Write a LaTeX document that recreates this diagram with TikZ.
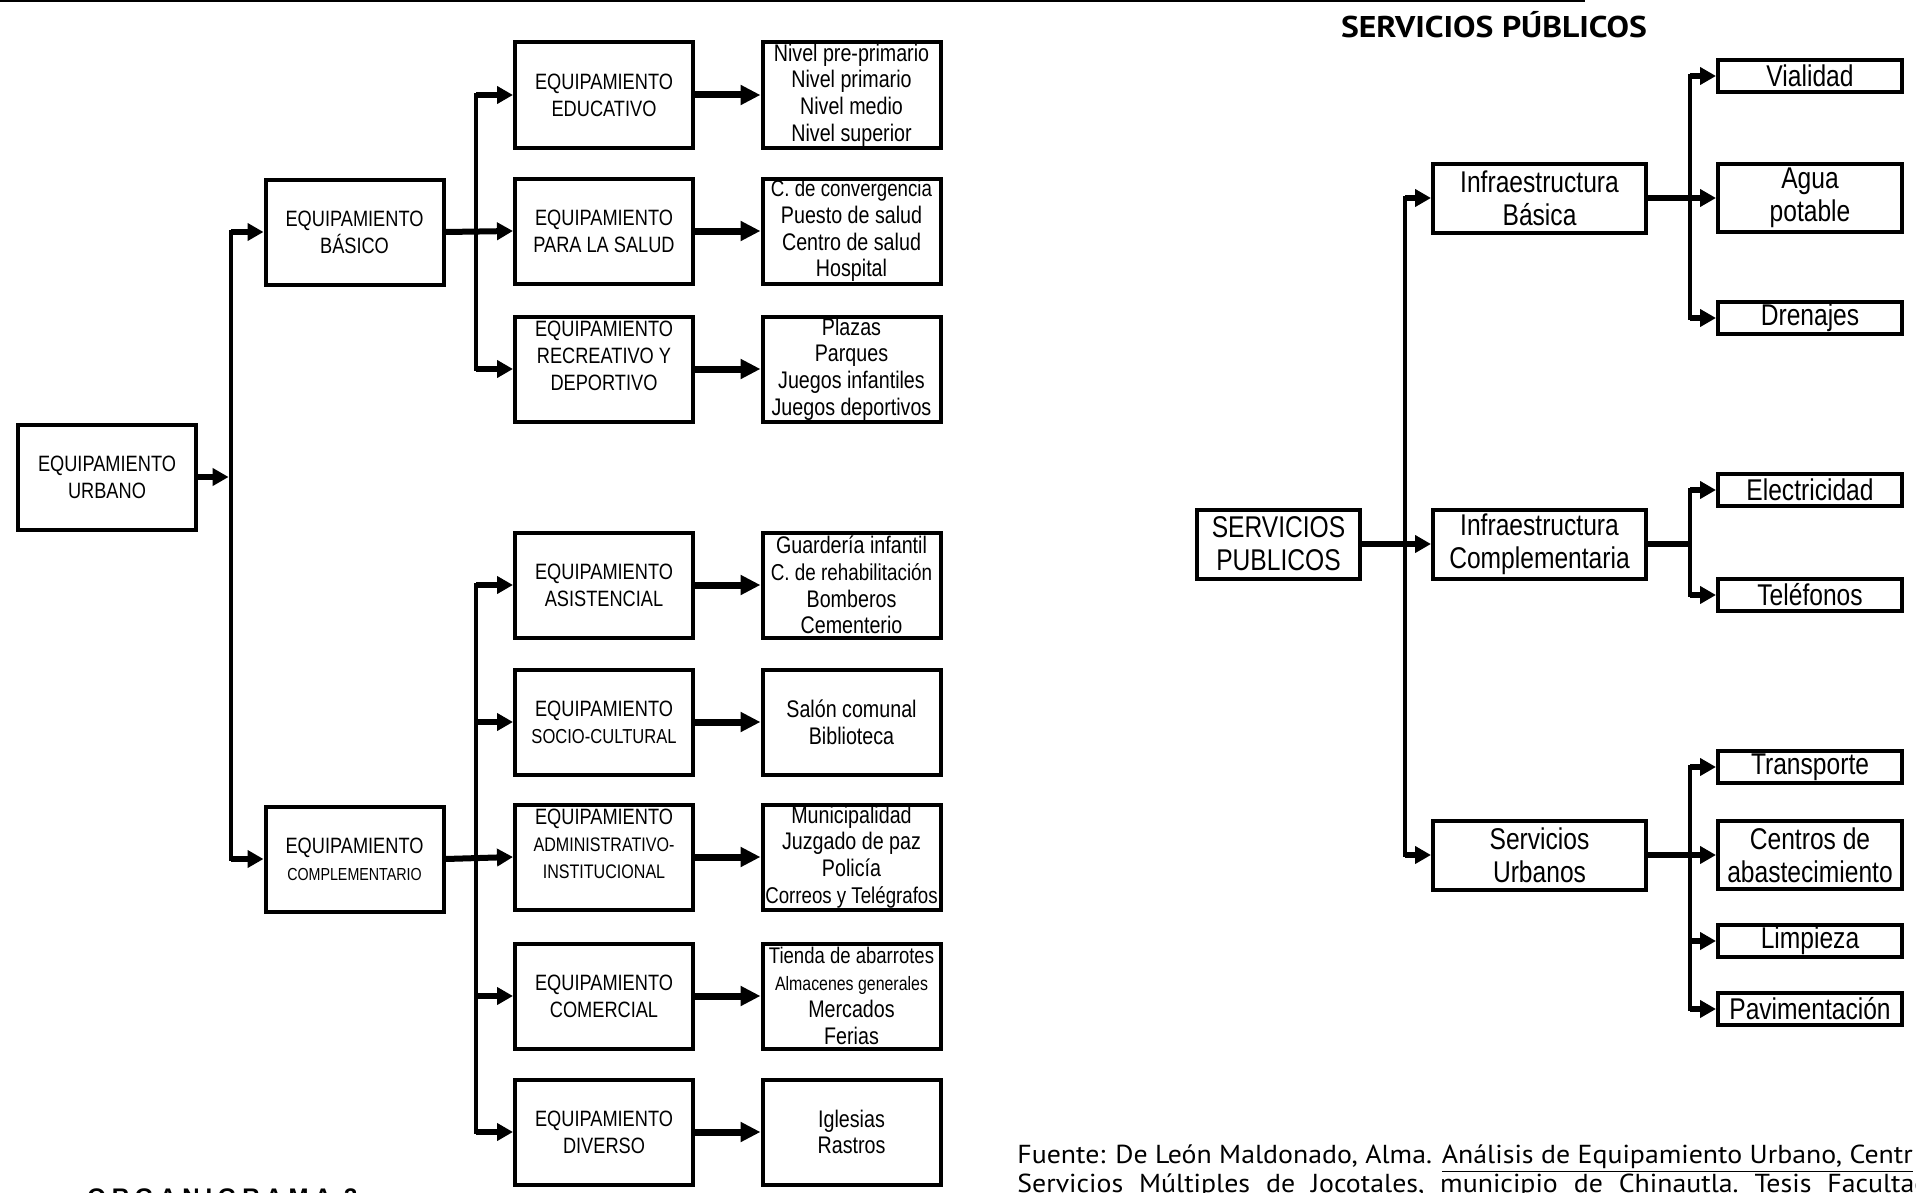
\documentclass[tikz,border=0pt]{standalone}
\usepackage{fontspec}
\usetikzlibrary{arrows.meta}
\setmainfont{Liberation Sans}
\newfontfamily\cajafont[FakeStretch=0.82]{Liberation Sans}
\newfontfamily\titfont[FakeStretch=1.12]{PT Sans}
\newfontfamily\fuentefont[FakeStretch=1.07]{PT Sans}
\newcommand\tam[1]{\fontsize{#1}{13.4pt}\selectfont}

\begin{document}
\begin{tikzpicture}[x=0.5pt, y=-0.5pt,
  caja/.style={draw, line width=2pt, inner sep=0pt, align=center,
    minimum width=89pt, minimum height=52.5pt, font=\cajafont\tam{11.1}},
  lista/.style={caja, font=\cajafont\tam{12}},
  cajad/.style={draw, line width=2pt, inner sep=0pt, align=center,
    minimum width=106.5pt, minimum height=34.5pt,
    font=\cajafont\fontsize{15}{16.5}\selectfont},
  serv/.style={cajad, minimum width=92pt, minimum height=16pt},
  tronco/.style={line width=2.4pt, line cap=rect},
  linea/.style={line width=3.4pt},
  flecha/.style={line width=3pt, -{Triangle[length=8pt,width=8.5pt]}},
  flechagrande/.style={line width=3.5pt, -{Triangle[length=10pt,width=9.5pt]}}]
  \useasboundingbox (0,0) rectangle (1916,1193);
  \draw[line width=1pt] (0,1) -- (1585,1);

  % troncos
  \coordinate (tA) at (231,0);
  \coordinate (tB) at (476,0);
  \coordinate (tR) at (1405,0);
  \coordinate (tS) at (1690,0);

  % equipamiento urbano
  \node[caja] (urbano) at (107,477) {EQUIPAMIENTO\\URBANO};
  \node[caja] (basico) at (354.5,232) {EQUIPAMIENTO\\BÁSICO};
  \node[caja] (compl) at (354.5,859) {EQUIPAMIENTO\\{\tam{8.7}COMPLEMENTARIO}};

  \node[caja] (educ) at (604,95) {EQUIPAMIENTO\\EDUCATIVO};
  \node[caja] (salud) at (604,231) {EQUIPAMIENTO\\PARA LA SALUD};
  \node[caja] (recr) at (604,369) {EQUIPAMIENTO\\RECREATIVO Y\\DEPORTIVO\\\phantom{X}};
  \node[caja] (asis) at (604,585) {EQUIPAMIENTO\\ASISTENCIAL};
  \node[caja] (socio) at (604,722) {EQUIPAMIENTO\\{\tam{10.1}SOCIO-CULTURAL}};
  \node[caja] (admin) at (604,857) {EQUIPAMIENTO\\{\tam{9.8}ADMINISTRATIVO-}\\{\tam{9.8}INSTITUCIONAL}\\\phantom{X}};
  \node[caja] (comer) at (604,996) {EQUIPAMIENTO\\COMERCIAL};
  \node[caja] (divers) at (604,1132) {EQUIPAMIENTO\\DIVERSO};

  \node[lista] (l-educ) at (851.5,95) {Nivel pre-primario\\Nivel primario\\Nivel medio\\Nivel superior};
  \node[lista] (l-salud) at (851.5,231) {{\tam{11.4}C. de convergencia}\\Puesto de salud\\Centro de salud\\Hospital};
  \node[lista] (l-recr) at (851.5,369) {Plazas\\Parques\\Juegos infantiles\\Juegos deportivos};
  \node[lista] (l-asis) at (851.5,585) {Guardería infantil\\{\tam{11.5}C. de rehabilitación}\\Bomberos\\Cementerio};
  \node[lista] (l-socio) at (851.5,722) {Salón comunal\\Biblioteca};
  \node[lista] (l-admin) at (851.5,857) {Municipalidad\\Juzgado de paz\\Policía\\{\tam{11.4}Correos y Telégrafos}};
  \node[lista] (l-comer) at (851.5,996) {{\tam{11.3}Tienda de abarrotes}\\{\tam{9.7}Almacenes generales}\\Mercados\\Ferias};
  \node[lista] (l-divers) at (851.5,1132) {Iglesias\\Rastros};

  \draw[tronco] (tA |- basico.west) -- (tA |- compl.west);
  \draw[flecha, shorten >=1.2pt] (urbano.east) -- (tA |- urbano.east);
  \draw[flecha] (tA |- basico.west) -- (basico.west);
  \draw[flecha] (tA |- compl.west) -- (compl.west);

  \draw[tronco] (tB |- educ.west) -- (tB |- recr.west);
  \draw[tronco] (tB |- asis.west) -- (tB |- divers.west);
  \draw[flecha] (basico.east) -- (salud.west);
  \draw[flecha] (compl.east) -- (admin.west);
  \foreach \n in {educ,recr,asis,socio,comer,divers}
    \draw[flecha] (tB |- \n.west) -- (\n.west);
  \foreach \n in {educ,salud,recr,asis,socio,admin,comer,divers}
    \draw[flechagrande] (\n.east) -- (l-\n.west);

  % servicios publicos
  \node[font=\titfont\bfseries\fontsize{15}{17}\selectfont] (titulo) at (1494,25) {SERVICIOS PÚBLICOS};
  \node[cajad, minimum width=81.5pt] (sp) at (1278.5,544) {SERVICIOS\\PUBLICOS};
  \node[cajad] (infb) at (1539.5,198) {Infraestructura\\Básica};
  \node[cajad] (infc) at (1539.5,544) {Infraestructura\\Complementaria};
  \node[cajad] (surb) at (1539.5,855) {Servicios\\Urbanos};

  \node[serv] (vial) at (1810,76) {Vialidad};
  \node[serv, minimum height=34pt] (agua) at (1810,198) {Agua\\potable};
  \node[serv] (dren) at (1810,318) {Drenajes};
  \node[serv] (elec) at (1810,490) {Electricidad};
  \node[serv] (tel) at (1810,595) {Teléfonos};
  \node[serv] (trans) at (1810,767) {Transporte};
  \node[serv, minimum height=34pt] (centros) at (1810,855) {Centros de\\abastecimiento};
  \node[serv] (limp) at (1810,941) {Limpieza};
  \node[serv] (pav) at (1810,1009) {Pavimentación};

  \draw[tronco] (tR |- infb.west) -- (tR |- surb.west);
  \draw[flecha] (sp.east) -- (infc.west);
  \draw[flecha] (tR |- infb.west) -- (infb.west);
  \draw[flecha] (tR |- surb.west) -- (surb.west);

  \draw[tronco] (tS |- vial.west) -- (tS |- dren.west);
  \draw[tronco] (tS |- elec.west) -- (tS |- tel.west);
  \draw[tronco] (tS |- trans.west) -- (tS |- pav.west);
  \draw[flecha] (infb.east) -- (agua.west);
  \draw[linea] (infc.east) -- (tS |- infc.east);
  \draw[flecha] (surb.east) -- (centros.west);
  \foreach \n in {vial,dren,elec,tel,trans,limp,pav}
    \draw[flecha] (tS |- \n.west) -- (\n.west);

  % pie
  \node[anchor=north west, inner sep=0pt, font=\bfseries\fontsize{12}{14}\selectfont\addfontfeature{LetterSpace=24}] (organ) at (87,1188) {ORGANIGRAMA 3};
  \node[anchor=base west, inner sep=0pt, font=\fuentefont\fontsize{13}{15}\selectfont] (fuente1) at (1017,1163)
    {Fuente: De León Maldonado, Alma. \underline{Análisis de Equipamiento Urbano, Centr}};
  \node[anchor=base west, inner sep=0pt, font=\fuentefont\fontsize{13}{15}\selectfont] (fuente2) at (1017,1192)
    {\frenchspacing\makebox[456pt][s]{Servicios Múltiples de Jocotales, municipio de Chinautla. Tesis Facultad}};
\end{tikzpicture}
\end{document}
